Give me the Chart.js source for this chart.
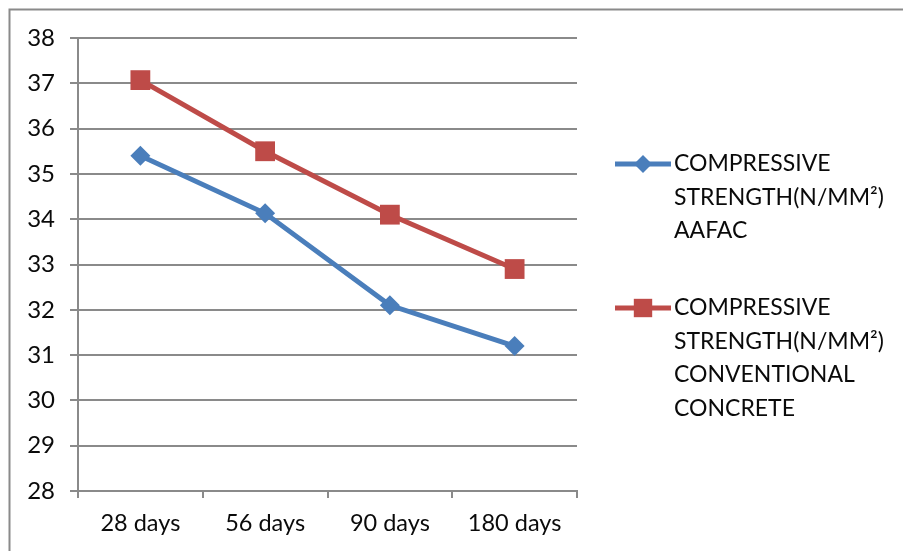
<!DOCTYPE html>
<html>
<head>
<meta charset="utf-8">
<script src="https://cdn.jsdelivr.net/npm/chart.js@4/dist/chart.umd.min.js"></script>
<style>
  html, body { margin: 0; padding: 0; background: #ffffff; }
  canvas { display: block; }
</style>
</head>
<body>
<canvas id="chart" width="903" height="551"></canvas>
<script>
// Compressive strength (N/mm²) by curing age
const categories = ['28 days', '56 days', '90 days', '180 days'];
const aafacStrength = [35.4, 34.13, 32.1, 31.2];
const conventionalStrength = [37.07, 35.5, 34.1, 32.9];
const yTicksMin = 28;
const yTicksMax = 38;
const yTickStep = 1;
const aafacLegendLines = ['COMPRESSIVE', 'STRENGTH(N/MM\u00B2)', 'AAFAC'];
const conventionalLegendLines = ['COMPRESSIVE', 'STRENGTH(N/MM\u00B2)', 'CONVENTIONAL', 'CONCRETE'];

const FONT = 'Lato, "Liberation Sans", sans-serif';
const BLUE = '#4A7EBB';
const RED = '#BE4B48';
const GRID = '#8A8A8A';
const TEXT = '#0a0a0a';

// Frame along the top and left edges of the figure
const framePlugin = {
  id: 'frame',
  beforeDraw(chart) {
    const ctx = chart.ctx;
    ctx.save();
    ctx.fillStyle = '#ffffff';
    ctx.fillRect(0, 0, chart.width, chart.height);
    ctx.strokeStyle = '#8A8A8A';
    ctx.lineWidth = 2;
    ctx.beginPath();
    ctx.moveTo(9.5, chart.height);
    ctx.lineTo(9.5, 9.5);
    ctx.lineTo(chart.width, 9.5);
    ctx.stroke();
    ctx.restore();
  }
};

// Legend on the right with wrapped, multi-line entries
const sideLegendPlugin = {
  id: 'sideLegend',
  afterDraw(chart) {
    const ctx = chart.ctx;
    const entries = [
      { lines: aafacLegendLines, ds: chart.data.datasets[0], y: 164, marker: { pointStyle: 'rectRot', radius: 9 } },
      { lines: conventionalLegendLines, ds: chart.data.datasets[1], y: 308, marker: { pointStyle: 'rect', radius: 13 } }
    ];
    const lineX0 = 615, lineX1 = 671, textX = 674, lineH = 33.5;
    ctx.save();
    entries.forEach(e => {
      ctx.strokeStyle = e.ds.borderColor;
      ctx.lineWidth = 5;
      ctx.beginPath();
      ctx.moveTo(lineX0, e.y);
      ctx.lineTo(lineX1, e.y);
      ctx.stroke();
      ctx.fillStyle = e.ds.borderColor;
      ctx.strokeStyle = e.ds.borderColor;
      Chart.helpers.drawPoint(ctx, {
        pointStyle: e.marker.pointStyle,
        radius: e.marker.radius,
        rotation: 0,
        borderWidth: 0
      }, (lineX0 + lineX1) / 2, e.y);
      ctx.fillStyle = TEXT;
      ctx.font = '23px ' + FONT;
      ctx.textAlign = 'left';
      ctx.textBaseline = 'middle';
      e.lines.forEach((t, i) => ctx.fillText(t, textX, e.y + i * lineH));
    });
    ctx.restore();
  }
};

new Chart(document.getElementById('chart'), {
  type: 'line',
  data: {
    labels: categories,
    datasets: [
      {
        label: aafacLegendLines.join(' '),
        data: aafacStrength,
        borderColor: BLUE,
        backgroundColor: BLUE,
        borderWidth: 5,
        pointStyle: 'rectRot',
        pointRadius: 10,
        pointBorderWidth: 0,
        pointBackgroundColor: BLUE,
        tension: 0
      },
      {
        label: conventionalLegendLines.join(' '),
        data: conventionalStrength,
        borderColor: RED,
        backgroundColor: RED,
        borderWidth: 5,
        pointStyle: 'rect',
        pointRadius: 14,
        pointBorderWidth: 0,
        pointBackgroundColor: RED,
        tension: 0
      }
    ]
  },
  options: {
    responsive: false,
    animation: false,
    events: [],
    layout: { padding: { left: 0, top: 38, right: 326, bottom: 0 } },
    plugins: {
      legend: { display: false },
      tooltip: { enabled: false },
      title: { display: false }
    },
    scales: {
      x: {
        offset: true,
        grid: {
          offset: true,
          drawOnChartArea: false,
          drawTicks: true,
          tickLength: 7,
          color: GRID,
          lineWidth: 2
        },
        border: { display: true, color: GRID, width: 2 },
        ticks: {
          color: TEXT,
          font: { family: FONT, size: 23.5 },
          padding: 11,
          maxRotation: 0
        },
        afterFit(scale) { scale.height = 60; }
      },
      y: {
        min: yTicksMin,
        max: yTicksMax,
        grid: {
          color: GRID,
          lineWidth: 2,
          drawTicks: true,
          tickLength: 8
        },
        border: { display: true, color: GRID, width: 2 },
        ticks: {
          stepSize: yTickStep,
          color: TEXT,
          font: { family: FONT, size: 24 },
          padding: 15
        },
        afterFit(scale) { scale.width = 78; }
      }
    }
  },
  plugins: [framePlugin, sideLegendPlugin]
});
</script>
</body>
</html>
